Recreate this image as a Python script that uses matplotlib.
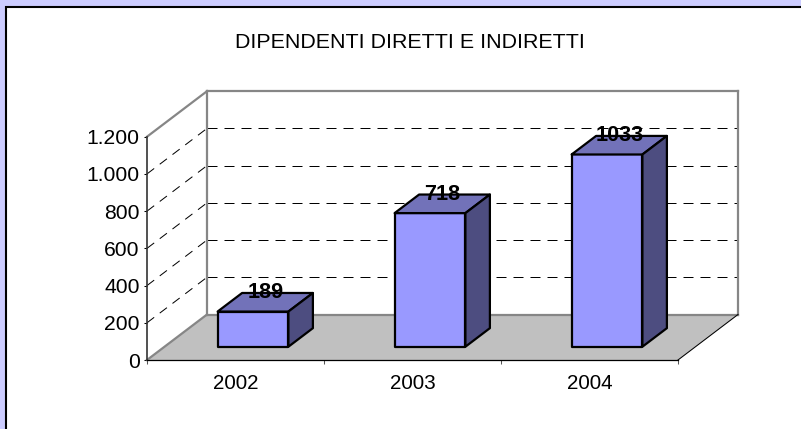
import matplotlib
matplotlib.use("Agg")
import matplotlib.pyplot as plt
from matplotlib.patches import Polygon, Rectangle

years = ["2002", "2003", "2004"]
values = [189, 718, 1033]
y_ticks = [0, 200, 400, 600, 800, 1000, 1200]
y_labels = ["0", "200", "400", "600", "800", "1.000", "1.200"]
title = "DIPENDENTI DIRETTI E INDIRETTI"

W, H = 801, 429
plt.rcParams["font.family"] = ["Liberation Sans", "DejaVu Sans"]
fig = plt.figure(figsize=(W / 100, H / 100), dpi=100, facecolor="#CCCCFF")
fig.add_artist(Rectangle((6 / W, -0.01), 1.1, (H - 6.5) / H + 0.01, transform=fig.transFigure,
                         facecolor="white", edgecolor="black", linewidth=1.5, zorder=-5))

ax = fig.add_axes([147 / W, (H - 360) / H, 531 / W, 223.3 / H])
ax.patch.set_visible(False)
ax.set_xlim(0, 3)
ax.set_ylim(0, 1200)

# oblique depth, in data units
DX = 60 / 177
DY = 45.5 / 223.3 * 1200


def p(x, y, d=0.0):
    return (x + DX * d, y + DY * d)


def line(a, b, color, lw, z=2, ls="-"):
    ax.plot([a[0], b[0]], [a[1], b[1]], color=color, lw=lw, ls=ls, zorder=z,
            clip_on=False, solid_capstyle="projecting")


ymax = y_ticks[-1]
xmax = len(years)
# floor
ax.add_patch(Polygon([p(0, 0), p(xmax, 0), p(xmax, 0, 1), p(0, 0, 1)], closed=True,
                     facecolor="#C0C0C0", edgecolor="none", zorder=1, clip_on=False))
# grid lines
for t in y_ticks[1:-1]:
    ax.plot(*zip(p(0, t), p(0, t, 1)), color="black", lw=0.72, ls=(0, (9, 7)), zorder=1.5, clip_on=False)
    ax.plot(*zip(p(0, t, 1), p(xmax, t, 1)), color="black", lw=0.72, ls=(0, (10, 7)), zorder=1.5, clip_on=False)
# walls
GR = "#868686"
line(p(0, ymax), p(0, ymax, 1), GR, 1.6)
line(p(0, ymax, 1), p(xmax, ymax, 1), GR, 1.6)
line(p(0, 0, 1), p(0, ymax, 1), GR, 1.6)
line(p(xmax, 0, 1), p(xmax, ymax, 1), GR, 1.6)
line(p(0, 0, 1), p(xmax, 0, 1), GR, 1.6)
line(p(0, 0), p(0, 0, 1), GR, 1.6)
line(p(xmax, 0), p(xmax, 0, 1), "black", 0.75)

# bars
D0, D1 = 0.292, 0.70
BW = 0.40
for i, v in enumerate(values):
    x0 = i + 0.5 - BW / 2
    x1 = i + 0.5 + BW / 2
    style = dict(edgecolor="black", linewidth=1.6, joinstyle="round", closed=True, clip_on=False, zorder=3)
    ax.add_patch(Polygon([p(x0, 0, D0), p(x1, 0, D0), p(x1, v, D0), p(x0, v, D0)], facecolor="#9999FF", **style))
    ax.add_patch(Polygon([p(x0, v, D0), p(x1, v, D0), p(x1, v, D1), p(x0, v, D1)], facecolor="#7272B9", **style))
    ax.add_patch(Polygon([p(x1, 0, D0), p(x1, 0, D1), p(x1, v, D1), p(x1, v, D0)], facecolor="#4D4D80", **style))
    lx = p(i + 0.5, v, (D0 + D1) / 2)[0]
    ly = p(i + 0.5, v, D1)[1]
    ax.text(lx, ly, str(v), ha="center", va="center", fontsize=15.6, fontweight="bold",
            color="black", zorder=5, clip_on=False)

# axes
for s in ("top", "right"):
    ax.spines[s].set_visible(False)
ax.spines["left"].set_linewidth(1.2)
ax.spines["left"].set_color("#333333")
ax.spines["bottom"].set_linewidth(0.9)
for s in ("left", "bottom"):
    ax.spines[s].set_zorder(4)
ax.set_yticks(y_ticks, y_labels)
ax.set_xticks(range(xmax + 1), [""] * (xmax + 1))
ax.set_xticks([i + 0.5 for i in range(xmax)], years, minor=True)
ax.tick_params(axis="y", direction="out", length=2.5, width=0.75, labelsize=15.2, pad=2.8)
ax.tick_params(axis="x", which="major", direction="out", length=3.2, width=0.75, color="#555555")
ax.tick_params(axis="x", which="minor", length=0, labelsize=14.9, pad=10)

fig.text(409.5 / W, (H - 42) / H, title, ha="center", va="center", fontsize=15.4, color="black")
fig.savefig("out.png", dpi=100, facecolor=fig.get_facecolor())
